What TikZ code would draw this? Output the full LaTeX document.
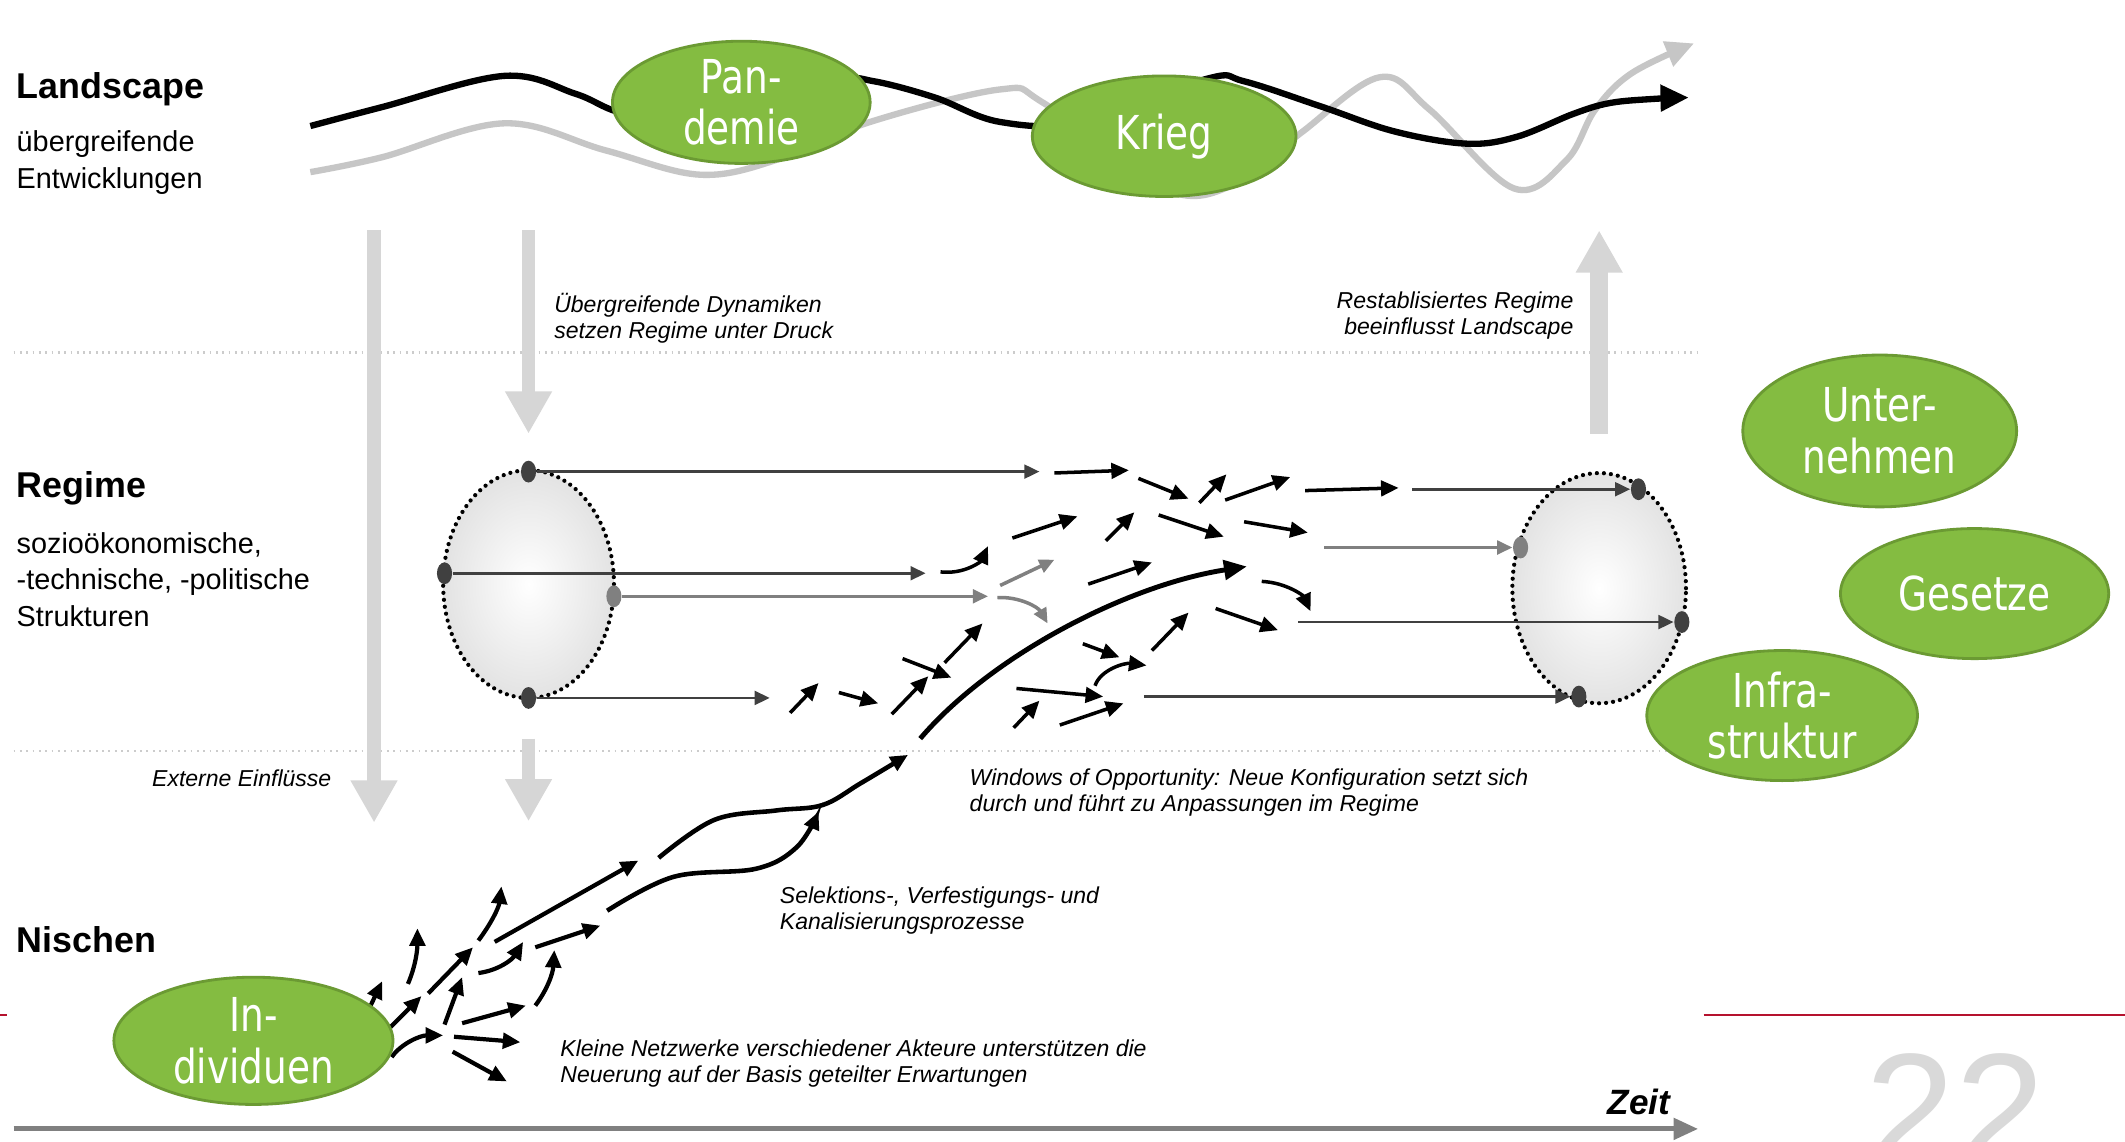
\documentclass[tikz,border=0pt]{standalone}
\usepackage{fontspec}
\setmainfont{Liberation Sans}
\newfontfamily\greenfont[FakeStretch=0.8]{DejaVu Sans}
\usetikzlibrary{arrows.meta,shapes.geometric}

\definecolor{leaf}{HTML}{84BC41}
\definecolor{leafrim}{HTML}{6B9A33}
\definecolor{pale}{HTML}{D6D6D6}
\definecolor{dotdark}{HTML}{404040}
\definecolor{pagered}{HTML}{B5122E}

\tikzset{
  player/.style={ellipse, fill=leaf, draw=leafrim, line width=0.8pt, text=white, inner sep=0pt, align=center, font=\greenfont\fontsize{13.3}{14.7}\selectfont},
  regime/.style={ellipse, draw=black, inner color=white, outer color=gray!22, dash pattern=on 0pt off 2pt, line cap=round, line width=1.2pt, minimum width=48.6pt, minimum height=64.8pt},
  knot/.style={ellipse, fill=dotdark, inner sep=0pt, minimum width=4.3pt, minimum height=6.2pt},
  greyknot/.style={knot, fill=gray},
  bigarrow/.style={draw=pale, line width=3.9pt, -{Triangle[length=12pt,width=12.5pt]}},
  flow/.style={draw=dotdark, line width=0.8pt, -{Triangle[length=4.3pt,width=3.9pt]}},
  greyflow/.style={flow, draw=gray},
  jump/.style={draw=black, line width=1pt, -{Triangle[length=5pt,width=4.4pt]}},
  wave/.style={line width=1.8pt, -{Triangle[length=8pt,width=7.3pt]}},
  layerline/.style={draw=gray!40, line width=0.7pt, dash pattern=on 0.5pt off 1.3pt},
  note/.style={font=\itshape\fontsize{6.55}{7.4}\selectfont, inner sep=0pt},
  layer/.style={font=\bfseries\fontsize{10.2}{12}\selectfont, inner sep=0pt, anchor=base west},
  layersub/.style={font=\fontsize{8.2}{10.4}\selectfont, inner sep=0pt, align=left, anchor=base west}
}

\begin{document}
\begin{tikzpicture}[x=0.013552cm,y=-0.013552cm]
\useasboundingbox (0,0) rectangle (1568,842);
\fill[white] (0,0) rectangle (1568,842);

\draw[layerline] (10,260) -- (1253,260);
\draw[layerline] (10,554) -- (1253,554);

\draw[bigarrow] (276,170) -- (276,607);
\draw[bigarrow] (390,170) -- (390,320);
\draw[bigarrow] (390,545) -- (390,606);
\draw[bigarrow, line width=5pt] (1180,320) -- (1180,170);

\draw[wave, gray!45] plot[smooth, tension=0.6] coordinates {(229,127) (282,116) (372,91) (447,111) (518,129) (579,116) (642,90) (738,66) (770,76) (860,140) (913,135) (960,98) (1018,57) (1055,81) (1117,139) (1156,118) (1177,81) (1204,54) (1250,32)};
\draw[wave, black] plot[smooth, tension=0.6] coordinates {(229,93) (282,79) (372,56) (424,69) (454,82) (500,95) (560,85) (620,60) (645,60) (690,72) (738,90) (800,90) (891,58) (918,60) (976,79) (1029,97) (1082,106) (1119,101) (1161,84) (1188,76) (1220,73) (1246,72)};

\node[player, minimum width=73.3pt, minimum height=34.3pt] (pandemie) at (547,75.5) {Pan-\\demie};
\node[player, minimum width=75pt, minimum height=34.3pt] (krieg) at (859,100.5) {Krieg};

\node[regime] (altregime) at (390,431) {};
\node[regime, minimum width=49.4pt, minimum height=65.5pt] (neuregime) at (1180,434) {};

\node[knot] (atop) at (390,348) {};
\node[knot] (aleft) at (328,423) {};
\node[greyknot] (aright) at (453,440) {};
\node[knot] (abottom) at (390,515) {};
\node[knot] (ntop) at (1209,361) {};
\node[greyknot] (nleft) at (1122,404) {};
\node[knot] (nright) at (1241,459) {};
\node[knot] (nbottom) at (1165,514) {};

\coordinate (a1) at (767,348);
\coordinate (a2) at (683,423);
\coordinate (a3) at (729,440);
\coordinate (a4) at (568,515);
\coordinate (n1) at (1042,361);
\coordinate (n2) at (977,404);
\coordinate (n3) at (958,459);
\coordinate (n4) at (844,514);

\draw[flow] (atop) -- (a1);
\draw[flow] (aleft) -- (a2);
\draw[greyflow] (aright) -- (a3);
\draw[flow] (abottom) -- (a4);
\draw[flow] (n1) -- (ntop);
\draw[greyflow] (n2) -- (nleft);
\draw[flow] (n3) -- (nright);
\draw[flow] (n4) -- (nbottom);

\foreach \xa/\ya/\xb/\yb in {778/349/833/347, 840/353/877/368, 885/371/905/350, 904/369/952/352, 963/362/1032/360, 747/397/795/381, 816/399/837/378, 855/380/903/396, 918/385/965/393, 803/431/850/415, 897/449/943/465, 850/480/877/452, 799/475/826/485, 750/508/814/514, 748/537/767/517, 782/535/829/519, 666/486/702/500, 697/489/725/460, 658/527/685/499, 619/511/648/519, 583/526/604/504}{
    \draw[jump] (\xa,\ya) -- (\xb,\yb);
}
\draw[greyflow, line width=1pt] (738,432) -- (778,413);
\draw[greyflow, line width=1pt] (736,441) .. controls (752,440) and (766,448) .. (773,460);
\draw[jump] (694,422) .. controls (712,424) and (724,414) .. (729,403);
\draw[jump] (931,429) .. controls (950,430) and (962,440) .. (967,451);
\draw[jump] (808,506) .. controls (812,494) and (830,489) .. (846,491);
\draw[jump, line width=1.4pt, -{Triangle[length=6.5pt,width=5.5pt]}] (679,545) .. controls (730,485) and (830,432) .. (920,418);

\foreach \xa/\ya/\xb/\yb in {273/743/282/724, 288/758/311/735, 316/733/349/699, 365/695/471/635, 328/756/341/721, 395/699/443/683, 341/755/388/742, 335/765/384/769, 334/776/374/798}{
    \draw[jump, line width=1.2pt] (\xa,\ya) -- (\xb,\yb);
}
\draw[jump, line width=1.2pt] (301,726) .. controls (307,712) and (308,700) .. (308,685);
\draw[jump, line width=1.2pt] (353,694) .. controls (362,682) and (368,670) .. (370,654);
\draw[jump, line width=1.2pt] (353,718) .. controls (368,716) and (378,708) .. (386,695);
\draw[jump, line width=1.2pt] (395,742) .. controls (404,730) and (408,718) .. (409,701);
\draw[jump, line width=1.2pt] (289,780) .. controls (296,770) and (310,764) .. (327,764);
\draw[jump, line width=1.3pt] plot[smooth, tension=0.6] coordinates {(486,633) (527,605) (573,598) (607,594) (635,578) (670,557)};
\draw[jump, line width=1.3pt] plot[smooth, tension=0.6] coordinates {(448,672) (497,647) (558,641) (588,625) (604,599)};

\node[player, minimum width=77.9pt, minimum height=43.2pt] (unternehmen) at (1387,318) {Unter-\\nehmen};
\node[player, minimum width=76.3pt, minimum height=37pt] (gesetze) at (1457,438) {Gesetze};
\node[player, minimum width=77pt, minimum height=37pt] (infra) at (1315,528) {Infra-\\struktur};
\node[player, minimum width=79.4pt, minimum height=36.2pt] (individuen) at (187,768) {In-\\dividuen};

\node[layer] (landscape) at (11.8,72.6) {Landscape};
\node[layersub] (landscapesub) at (11.8,139) {übergreifende\\Entwicklungen};
\node[layer] (regime) at (11.8,367) {Regime};
\node[layersub] (regimesub) at (11.8,462) {sozioökonomische,\\-technische, -politische\\Strukturen};
\node[layer] (nischen) at (11.8,703) {Nischen};

\node[note, anchor=base west, align=left] (druck) at (408.5,250) {Übergreifende Dynamiken\\setzen Regime unter Druck};
\node[note, anchor=base east, align=right] (rueck) at (1161.5,247) {Restablisiertes Regime\\beeinflusst Landscape};
\node[note, anchor=base east] (extern) at (245,580) {Externe Einflüsse};
\node[note, anchor=base west, align=left] (fenster) at (715,599) {Windows of Opportunity: Neue Konfiguration setzt sich\\durch und führt zu Anpassungen im Regime};
\node[note, anchor=base west, align=left] (selektion) at (575,686) {Selektions-, Verfestigungs- und\\Kanalisierungsprozesse};
\node[note, anchor=base west, align=left] (netzwerke) at (413,799) {Kleine Netzwerke verschiedener Akteure unterstützen die\\Neuerung auf der Basis geteilter Erwartungen};

\draw[draw=gray, line width=1.4pt, -{Triangle[length=7pt,width=6pt]}] (10,833) -- (1253,833);
\node[anchor=base east, inner sep=0pt, font=\bfseries\itshape\fontsize{10}{12}\selectfont] (zeit) at (1233,822) {Zeit};

\draw[pagered, line width=0.8pt] (1257,749) -- (1568,749);
\draw[pagered, line width=0.8pt] (0,749) -- (5,749);
\node[anchor=base west, inner sep=0pt, text=gray!30, font=\fontsize{46}{46}\selectfont] (seite) at (1376,861) {22};
\end{tikzpicture}
\end{document}
